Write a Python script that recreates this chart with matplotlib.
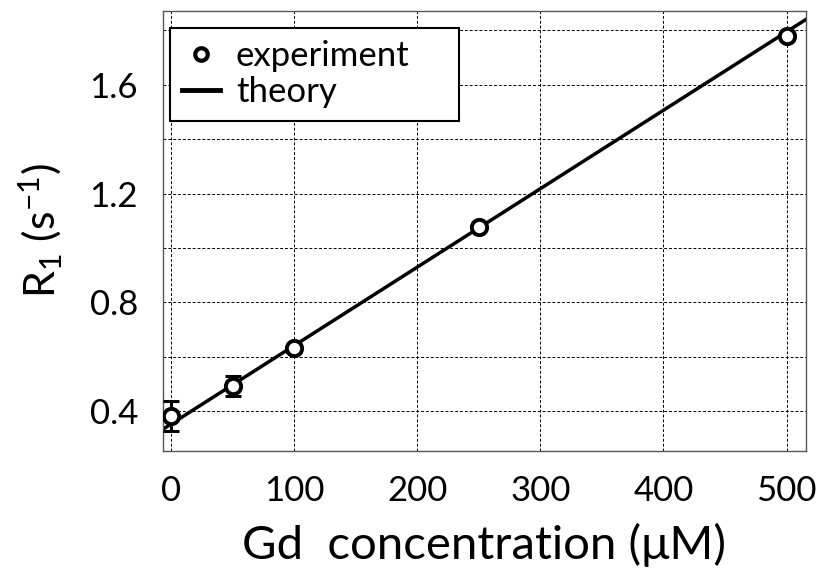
import matplotlib
matplotlib.use("Agg")
import matplotlib.pyplot as plt
from matplotlib.lines import Line2D

plt.rcParams['font.family'] = ['Lato', 'DejaVu Sans']
plt.rcParams['mathtext.default'] = 'regular'

# Data
conc = [0, 50, 100, 250, 500]          # Gd concentration (uM)
r1 = [0.382, 0.492, 0.630, 1.078, 1.781]  # R1 (1/s)
r1_err = [0.055, 0.038, 0.012, 0.010, 0.010]
theory_x = [-6.7, 515.6]
theory_y = [0.333, 1.840]

xticks = [0, 100, 200, 300, 400, 500]
yticks = [0.4, 0.6, 0.8, 1.0, 1.2, 1.4, 1.6, 1.8]
ytick_labels = ['0.4', '', '0.8', '', '1.2', '', '1.6', '']

fig = plt.figure(figsize=(8.23, 5.73), dpi=100)
ax = fig.add_axes([0.198, 0.213, 0.781, 0.768])

ax.plot(theory_x, theory_y, color='black', lw=2.5, zorder=2)
ax.errorbar(conc, r1, yerr=r1_err, fmt='none', ecolor='black', elinewidth=2.2,
            capsize=6, capthick=2.2, zorder=3)
ax.plot(conc, r1, 'o', ms=11, mfc='white', mec='black', mew=2.8, zorder=4)

ax.set_xlim(-6.7, 515.6)
ax.set_ylim(0.253, 1.872)
ax.set_xticks(xticks)
ax.set_yticks(yticks)
ax.set_yticklabels(ytick_labels)
ax.tick_params(axis='both', labelsize=25, direction='in', length=0)
ax.tick_params(axis='y', pad=18)
ax.tick_params(axis='x', pad=17)
ax.grid(True, color='black', linestyle=(0, (3, 2)), lw=0.7)
for s in ax.spines.values():
    s.set_color('#555555')
    s.set_linewidth(1.0)

ax.set_xlabel('Gd  concentration (μM)', fontsize=34, labelpad=12)
ax.set_ylabel('R$_1$ (s$^{-1}$)', fontsize=31, labelpad=18)

handles = [Line2D([], [], ls='none', marker='o', ms=9, mfc='white', mec='black', mew=3),
           Line2D([], [], color='black', lw=3.5)]
leg = ax.legend(handles, ['experiment', 'theory'], loc='upper left',
                bbox_to_anchor=(0.011, 0.0, 0.449, 0.961), mode='expand',
                fontsize=25, frameon=True,
                fancybox=False, edgecolor='black', framealpha=1,
                handlelength=1.1, handletextpad=0.45, borderpad=0.35,
                labelspacing=0.12, borderaxespad=0)
leg.get_frame().set_linewidth(1.5)

fig.savefig('out.png', dpi=100)
